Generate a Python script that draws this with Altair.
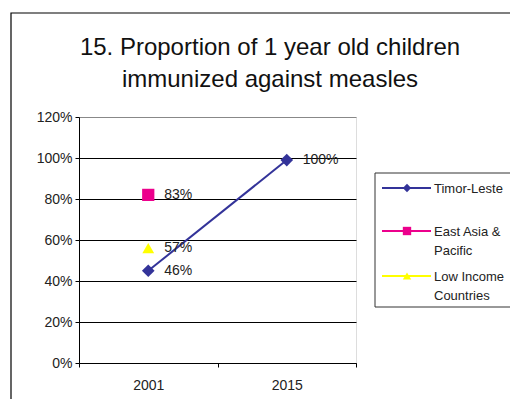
import altair as alt
import pandas as pd

# ---- data ----
series = ["Timor-Leste", "Timor-Leste", "East Asia & Pacific", "Low Income Countries"]
years = ["2001", "2015", "2001", "2001"]
values = [0.45, 0.99, 0.82, 0.56]
labels = ["46%", "100%", "83%", "57%"]

series_order = ["Timor-Leste", "East Asia & Pacific", "Low Income Countries"]
series_colors = ["#333399", "#EC008C", "#FFFF00"]
series_shapes = ["diamond", "square", "triangle-up"]
legend_text = ["Timor-Leste", "East Asia &\nPacific", "Low Income\nCountries"]
legend_rows = [71, 114, 159]

title_lines = ["15. Proportion of 1 year old children", "immunized against measles"]

df = pd.DataFrame({"series": series, "year": years, "value": values, "label": labels})
leg = pd.DataFrame({"series": series_order, "text": legend_text, "ly": legend_rows})
one = pd.DataFrame({"k": [0]})

FONT = "Liberation Sans"
W, H = 277, 246

color_scale = alt.Scale(domain=series_order, range=series_colors)
shape_scale = alt.Scale(domain=series_order, range=series_shapes)

x_enc = alt.X(
    "year:N",
    scale=alt.Scale(type="band", paddingInner=0, paddingOuter=0),
    axis=alt.Axis(title=None, labelAngle=0, tickBand="extent", grid=False,
                  domainColor="black", tickColor="black", tickSize=4,
                  labelPadding=11, labelFontSize=14, labelColor="#222",
                  labelFont=FONT),
)
y_enc = alt.Y(
    "value:Q",
    scale=alt.Scale(domain=[0, 1.2], nice=False, zero=True),
    axis=alt.Axis(title=None, format=".0%", values=[0, 0.2, 0.4, 0.6, 0.8, 1.0, 1.2],
                  gridColor={"condition": {"test": "datum.value >= 1.19", "value": "#888888"},
                             "value": "black"},
                  domainColor="black", tickColor="black", tickSize=4,
                  labelPadding=3, labelFontSize=14, labelColor="#222",
                  labelFont=FONT),
)

base = alt.Chart(df)

line = base.transform_filter(alt.datum.series == "Timor-Leste").mark_line(
    color="#333399", strokeWidth=2
).encode(x=x_enc, y=y_enc)

points = base.mark_point(filled=True, opacity=1).encode(
    x=x_enc, y=y_enc,
    color=alt.Color("series:N", scale=color_scale, legend=None),
    shape=alt.Shape("series:N", scale=shape_scale, legend=None),
    size=alt.Size("series:N", scale=alt.Scale(domain=series_order, range=[160, 140, 230]),
                  legend=None),
)

texts = base.mark_text(align="left", baseline="middle", dx=16, fontSize=14,
                       color="#222", font=FONT).encode(x=x_enc, y=y_enc, text="label:N")

title = alt.Chart(one).mark_text(
    text=title_lines, fontSize=24, lineHeight=32, align="center",
    baseline="alphabetic", font=FONT, color="#111"
).encode(x=alt.value(191), y=alt.value(-62))

frame = alt.Chart(one).mark_rect(fill=None, stroke="black", strokeWidth=1.2).encode(
    x=alt.value(-68), x2=alt.value(500), y=alt.value(-104), y2=alt.value(400)
)

leg_box = alt.Chart(one).mark_rect(fill="white", stroke="#333", strokeWidth=1).encode(
    x=alt.value(296), x2=alt.value(438), y=alt.value(56), y2=alt.value(190)
)
leg_lines = alt.Chart(leg).mark_rule(strokeWidth=2).encode(
    x=alt.value(303), x2=alt.value(352),
    y=alt.Y("ly:Q", scale=None),
    color=alt.Color("series:N", scale=color_scale, legend=None),
)
leg_pts = alt.Chart(leg).mark_point(filled=True, size=70, opacity=1).encode(
    x=alt.value(328), y=alt.Y("ly:Q", scale=None),
    color=alt.Color("series:N", scale=color_scale, legend=None),
    shape=alt.Shape("series:N", scale=shape_scale, legend=None),
)
leg_text = alt.Chart(leg).mark_text(
    align="left", baseline="alphabetic", dy=5, fontSize=13, lineHeight=19,
    lineBreak="\n", font=FONT, color="#222"
).encode(x=alt.value(355), y=alt.Y("ly:Q", scale=None), text="text:N")

chart = alt.layer(
    frame, title, line, points, texts, leg_box, leg_lines, leg_pts, leg_text
).properties(
    width=W, height=H,
    padding={"left": 71, "top": 109, "right": 154, "bottom": 36},
    autosize=alt.AutoSizeParams(type="none"),
).configure_view(stroke="#888888", strokeWidth=1).configure(background="white")

chart.save("out.html", embed_options={"renderer": "svg", "actions": False})
